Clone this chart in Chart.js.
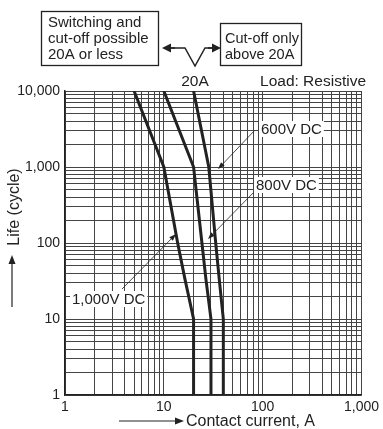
<!DOCTYPE html>
<html>
<head>
<meta charset="utf-8">
<script src="https://cdn.jsdelivr.net/npm/chart.js@4"></script>
<style>body{margin:0;background:#fff}canvas{display:block}</style>
</head>
<body>
<canvas id="myChart" width="383" height="429"></canvas>
<script>
// Life (cycle) points shared by the three curves
const lifeCycles = [10000, 1000, 100, 33, 10, 1];
// Contact current, A for each voltage
const current1000V = [5, 10, 13.8, 16.4, 20, 20];
const current800V = [10, 20, 24.3, 26.7, 30, 30];
const current600V = [20, 28.5, 33.5, 36.4, 40, 40];
// Tick labels
const xTickLabels = ['1', '10', '100', '1,000'];
const yTickLabels = ['1', '10', '100', '1,000', '10,000'];

const FONT = '"Liberation Sans", Arial, sans-serif';
let ctx = document.getElementById('myChart');

function points(xs) {
    return xs.map((x, i) => ({x: x, y: lifeCycles[i]}));
}

function logTicks(scale) {
    let ticks = [];
    for (let d = 1; d <= scale.max; d *= 10) {
        for (let m = 1; m <= 9; m++) {
            if (m * d <= scale.max) ticks.push({value: m * d});
        }
    }
    scale.ticks = ticks;
}

function arrow(c, x1, y1, x2, y2, len, half) {
    let a = Math.atan2(y2 - y1, x2 - x1);
    c.beginPath();
    c.moveTo(x1, y1);
    c.lineTo(x2 - Math.cos(a) * len * 0.7, y2 - Math.sin(a) * len * 0.7);
    c.stroke();
    c.beginPath();
    c.moveTo(x2, y2);
    c.lineTo(x2 - len * Math.cos(a) + half * Math.sin(a), y2 - len * Math.sin(a) - half * Math.cos(a));
    c.lineTo(x2 - len * Math.cos(a) - half * Math.sin(a), y2 - len * Math.sin(a) + half * Math.cos(a));
    c.closePath();
    c.fill();
}

function label(c, text, x, y) {
    let w = c.measureText(text).width;
    c.fillStyle = '#fff';
    c.fillRect(x - 2, y - 13, w + 4, 16);
    c.fillStyle = '#222';
    c.fillText(text, x, y);
}

const notes = {
    id: 'notes',
    afterDraw(chart) {
        let c = chart.ctx;
        c.save();
        c.strokeStyle = '#222';
        c.fillStyle = '#222';
        c.textBaseline = 'alphabetic';

        // boxes at the top
        c.lineWidth = 1.3;
        c.strokeRect(41.5, 11.5, 117, 54);
        c.strokeRect(220.5, 23.5, 81, 42);
        c.textAlign = 'left';
        c.font = '15px ' + FONT;
        c.fillText('Switching and', 48, 27);
        c.fillText('cut-off possible', 48, 43);
        c.fillText('20A or less', 48, 59);
        c.font = '14.5px ' + FONT;
        c.fillText('Cut-off only', 225, 43);
        c.fillText('above 20A', 225, 59);

        // double arrow with V at 20A
        c.lineWidth = 1.5;
        c.beginPath();
        c.moveTo(168, 48);
        c.lineTo(185, 48);
        c.lineTo(195, 66);
        c.lineTo(205, 48);
        c.lineTo(215, 48);
        c.stroke();
        arrow(c, 175, 48, 162, 48, 9, 4.5);
        arrow(c, 208, 48, 221, 48, 9, 4.5);

        c.font = '15.5px ' + FONT;
        c.textAlign = 'center';
        c.fillText('20A', 195, 86);
        c.textAlign = 'right';
        c.fillText('Load: Resistive', 366, 86);

        // curve labels
        c.font = '15px ' + FONT;
        c.textAlign = 'left';
        label(c, '600V DC', 261, 134);
        label(c, '800V DC', 256, 190);
        label(c, '1,000V DC', 72, 304);
        c.fillStyle = '#222';
        c.lineWidth = 0.8;
        arrow(c, 255, 130, 218, 169, 7, 2.5);
        arrow(c, 253, 193, 208, 239, 7, 2.5);
        arrow(c, 122, 289, 176, 234, 7, 2.5);

        // axis titles
        c.font = '16px ' + FONT;
        c.lineWidth = 1.2;
        c.textAlign = 'left';
        c.fillText('Contact current, A', 186, 426);
        arrow(c, 119, 421, 184, 421, 9, 3.5);
        arrow(c, 12, 307, 12, 255, 9, 3.5);
        c.translate(19, 207);
        c.rotate(-Math.PI / 2);
        c.textAlign = 'center';
        c.fillText('Life (cycle)', 0, 0);
        c.restore();
    }
};

const line = (xs) => ({
    data: points(xs),
    borderColor: '#222',
    borderWidth: 3,
    pointRadius: 0,
    tension: 0,
    fill: false
});

let myChart = new Chart(ctx, {
    type: 'line',
    data: {
        datasets: [line(current1000V), line(current800V), line(current600V)]
    },
    options: {
        responsive: false,
        animation: false,
        layout: {padding: {left: 0, right: 16, top: 91, bottom: 0}},
        plugins: {legend: {display: false}, tooltip: {enabled: false}},
        scales: {
            x: {
                type: 'logarithmic',
                min: 1,
                max: 1000,
                afterBuildTicks: logTicks,
                afterFit: (s) => { s.height = 34; },
                grid: {color: '#444', lineWidth: 1, drawTicks: false},
                border: {color: '#222', width: 1.5},
                ticks: {
                    autoSkip: false,
                    maxRotation: 0,
                    padding: 4,
                    color: '#222',
                    font: {family: FONT, size: 14},
                    callback: (v) => {
                        let e = Math.log10(v);
                        return Math.abs(e - Math.round(e)) < 1e-9 ? xTickLabels[Math.round(e)] : '';
                    }
                }
            },
            y: {
                type: 'logarithmic',
                min: 1,
                max: 10000,
                afterBuildTicks: logTicks,
                afterFit: (s) => { s.width = 65; },
                grid: {color: '#444', lineWidth: 1, drawTicks: false},
                border: {color: '#222', width: 1.5},
                ticks: {
                    autoSkip: false,
                    padding: 5,
                    color: '#222',
                    font: {family: FONT, size: 14},
                    callback: (v) => {
                        let e = Math.log10(v);
                        return Math.abs(e - Math.round(e)) < 1e-9 ? yTickLabels[Math.round(e)] : '';
                    }
                }
            }
        }
    },
    plugins: [notes]
});
</script>
</body>
</html>
